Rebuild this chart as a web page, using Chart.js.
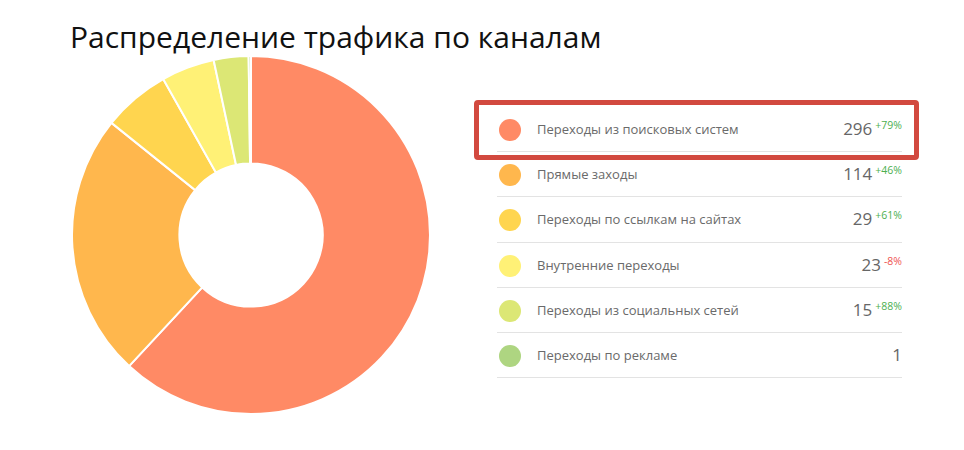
<!DOCTYPE html>
<html lang="ru">
<head>
<meta charset="utf-8">
<script src="https://cdn.jsdelivr.net/npm/chart.js@4"></script>
<style>
  html, body { margin: 0; padding: 0; background: #fff; }
  body { width: 964px; height: 450px; position: relative; overflow: hidden; font-family: "Open Sans", "DejaVu Sans", sans-serif; }
  #title { position: absolute; left: 70px; top: 16px; margin: 0; font-weight: 400; font-size: 30px; color: #111; }
  #chartBox { position: absolute; left: 71px; top: 55px; width: 360px; height: 360px; }
  #legend { position: absolute; left: 497px; top: 107px; width: 405px; margin: 0; padding: 0; list-style: none; }
  #legend li { position: relative; box-sizing: border-box; height: 45.2px; border-bottom: 1px solid #e3e3e3; }
  #legend .dot { position: absolute; left: 2px; top: 12px; width: 22px; height: 22px; border-radius: 50%; }
  #legend .name { position: absolute; left: 40px; top: 13px; font-size: 13px; color: #6a6a6a; }
  #legend .num { position: absolute; right: 0; top: 10px; font-size: 17px; color: #666; white-space: nowrap; }
  #legend .num sup { font-size: 10.5px; vertical-align: 6px; margin-left: 3px; }
  #legend .up { color: #4caf50; }
  #legend .down { color: #ef5350; }
  #highlight { position: absolute; left: 474px; top: 100px; width: 435px; height: 50px; border: 5px solid #d2493f; border-radius: 4px; }
</style>
</head>
<body>
<h1 id="title">Распределение трафика по каналам</h1>
<div id="chartBox"><canvas id="trafficChart"></canvas></div>
<ul id="legend"></ul>
<div id="highlight"></div>
<script>
// Данные
const channels = [
    'Переходы из поисковых систем',
    'Прямые заходы',
    'Переходы по ссылкам на сайтах',
    'Внутренние переходы',
    'Переходы из социальных сетей',
    'Переходы по рекламе'
];
const visits = [296, 114, 29, 23, 15, 1];
const changes = ['+79%', '+46%', '+61%', '-8%', '+88%', ''];
const colors = ['#ff8a65', '#ffb74d', '#ffd54f', '#fff176', '#dce775', '#aed581'];

const ctx = document.getElementById('trafficChart');

const chart = new Chart(ctx, {
    type: 'doughnut',
    data: {
        labels: channels,
        datasets: [{
            data: visits,
            backgroundColor: colors,
            borderColor: '#ffffff',
            borderWidth: 2,
            hoverOffset: 0
        }]
    },
    options: {
        responsive: true,
        maintainAspectRatio: false,
        animation: false,
        cutout: '40%',
        layout: { padding: 0 },
        plugins: {
            legend: { display: false },
            tooltip: { enabled: false }
        }
    }
});

// Легенда справа
const legendEl = document.getElementById('legend');
channels.forEach(function(name, i) {
    const li = document.createElement('li');
    const change = changes[i];
    let sup = '';
    if (change) {
        sup = '<sup class="' + (change.charAt(0) === '-' ? 'down' : 'up') + '">' + change + '</sup>';
    }
    li.innerHTML =
        '<span class="dot" style="background:' + colors[i] + '"></span>' +
        '<span class="name">' + name + '</span>' +
        '<span class="num">' + visits[i] + sup + '</span>';
    legendEl.appendChild(li);
});
</script>
</body>
</html>
